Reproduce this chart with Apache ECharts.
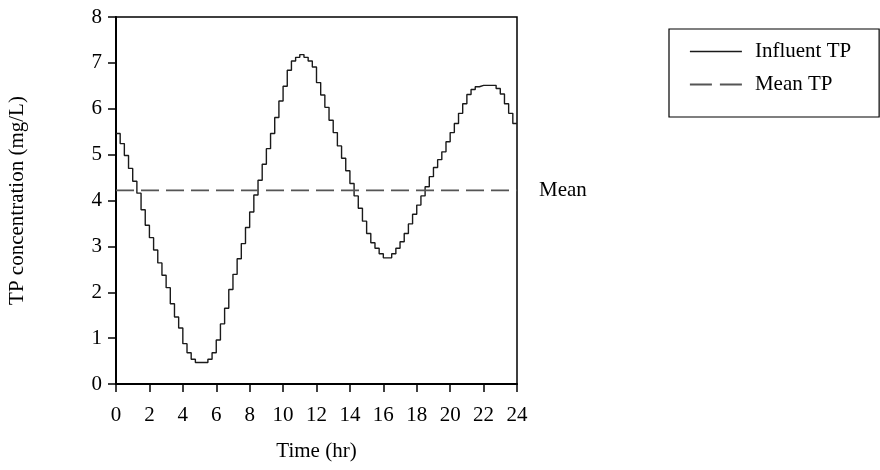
<!DOCTYPE html>
<html>
<head>
<meta charset="utf-8">
<script src="https://cdn.jsdelivr.net/npm/echarts@6/dist/echarts.min.js"></script>
<style>
  html, body { margin: 0; padding: 0; background: #fff; }
  #chart { width: 880px; height: 470px; }
</style>
</head>
<body>
<div id="chart"></div>
<script>
// Influent total phosphorus, sampled every 15 minutes over one day
const stepHours = 0.25;
const influentTP = [
  5.46, 5.24, 4.98, 4.70, 4.42, 4.16, 3.80, 3.46, 3.19, 2.92, 2.64, 2.37, 2.10, 1.75, 1.46, 1.22, 0.88, 0.68, 0.54, 0.47,
  0.47, 0.47, 0.54, 0.68, 0.96, 1.31, 1.65, 2.06, 2.39, 2.73, 3.06, 3.41, 3.75, 4.12, 4.44, 4.79, 5.13, 5.46, 5.81, 6.17,
  6.49, 6.84, 7.04, 7.12, 7.18, 7.12, 7.04, 6.91, 6.57, 6.30, 6.03, 5.75, 5.48, 5.19, 4.92, 4.65, 4.37, 4.10, 3.83, 3.55,
  3.28, 3.08, 2.96, 2.84, 2.75, 2.75, 2.84, 2.96, 3.10, 3.28, 3.49, 3.70, 3.90, 4.10, 4.30, 4.52, 4.72, 4.89, 5.06, 5.28,
  5.48, 5.68, 5.90, 6.11, 6.31, 6.42, 6.48, 6.51, 6.51, 6.51, 6.51, 6.44, 6.32, 6.11, 5.90, 5.68, 5.68
];
const meanTP = 4.22;
const timeRange = [0, 24];
const timeTickStep = 2;
const concRange = [0, 8];
const concTickStep = 1;
const seriesNames = ['Influent TP', 'Mean TP'];
const meanLabel = 'Mean';

const influentPoints = influentTP.map((v, i) => [i * stepHours, v]);
const meanPoints = [[timeRange[0], meanTP], [timeRange[1], meanTP]];

const FONT = '"Liberation Serif", "Times New Roman", serif';
const textBase = { fontFamily: FONT, fontSize: 21, color: '#000' };

const chart = echarts.init(document.getElementById('chart'), null, { renderer: 'canvas' });
chart.setOption({
  animation: false,
  backgroundColor: '#fff',
  grid: {
    left: 116, right: 363, top: 17, bottom: 86,
    show: true, borderColor: '#000', borderWidth: 1.5, backgroundColor: 'transparent'
  },
  legend: {
    orient: 'vertical',
    left: 669, top: 29,
    padding: [12, 28, 22, 20],
    itemWidth: 52, itemHeight: 21, itemGap: 12,
    borderColor: '#000', borderWidth: 1.2, borderRadius: 0,
    // line-only keys: hide the marker symbol
    itemStyle: { opacity: 0, borderWidth: 0 },
    textStyle: Object.assign({}, textBase, { padding: [0, 0, 0, 8] }),
    data: [
      { name: seriesNames[0], lineStyle: { color: '#1a1a1a', width: 1.4, type: 'solid' } },
      { name: seriesNames[1], lineStyle: { color: '#555', width: 1.8, type: [22, 8] } }
    ]
  },
  xAxis: {
    type: 'value',
    min: timeRange[0], max: timeRange[1], interval: timeTickStep,
    name: 'Time (hr)', nameLocation: 'middle', nameGap: 57,
    nameTextStyle: textBase,
    axisLine: { show: true, lineStyle: { color: '#000', width: 2 } },
    axisTick: { show: true, length: 8, lineStyle: { color: '#000', width: 1.5 } },
    axisLabel: Object.assign({}, textBase, { margin: 21 }),
    splitLine: { show: false }
  },
  yAxis: {
    type: 'value',
    min: concRange[0], max: concRange[1], interval: concTickStep,
    name: 'TP concentration (mg/L)', nameLocation: 'middle', nameGap: 88,
    nameTextStyle: textBase,
    axisLine: { show: true, lineStyle: { color: '#000', width: 2 } },
    axisTick: { show: true, length: 8, lineStyle: { color: '#000', width: 1.5 } },
    axisLabel: Object.assign({}, textBase, { margin: 14 }),
    splitLine: { show: false }
  },
  series: [
    {
      name: seriesNames[0],
      type: 'line',
      step: 'end',
      data: influentPoints,
      symbol: 'none',
      color: '#1a1a1a',
      lineStyle: { color: '#1a1a1a', width: 1.4 }
    },
    {
      name: seriesNames[1],
      type: 'line',
      data: meanPoints,
      symbol: 'none',
      color: '#555',
      lineStyle: { color: '#555', width: 1.8, type: [18, 7] },
      endLabel: Object.assign({ show: true, formatter: meanLabel, distance: 22 }, textBase)
    }
  ]
});
</script>
</body>
</html>
